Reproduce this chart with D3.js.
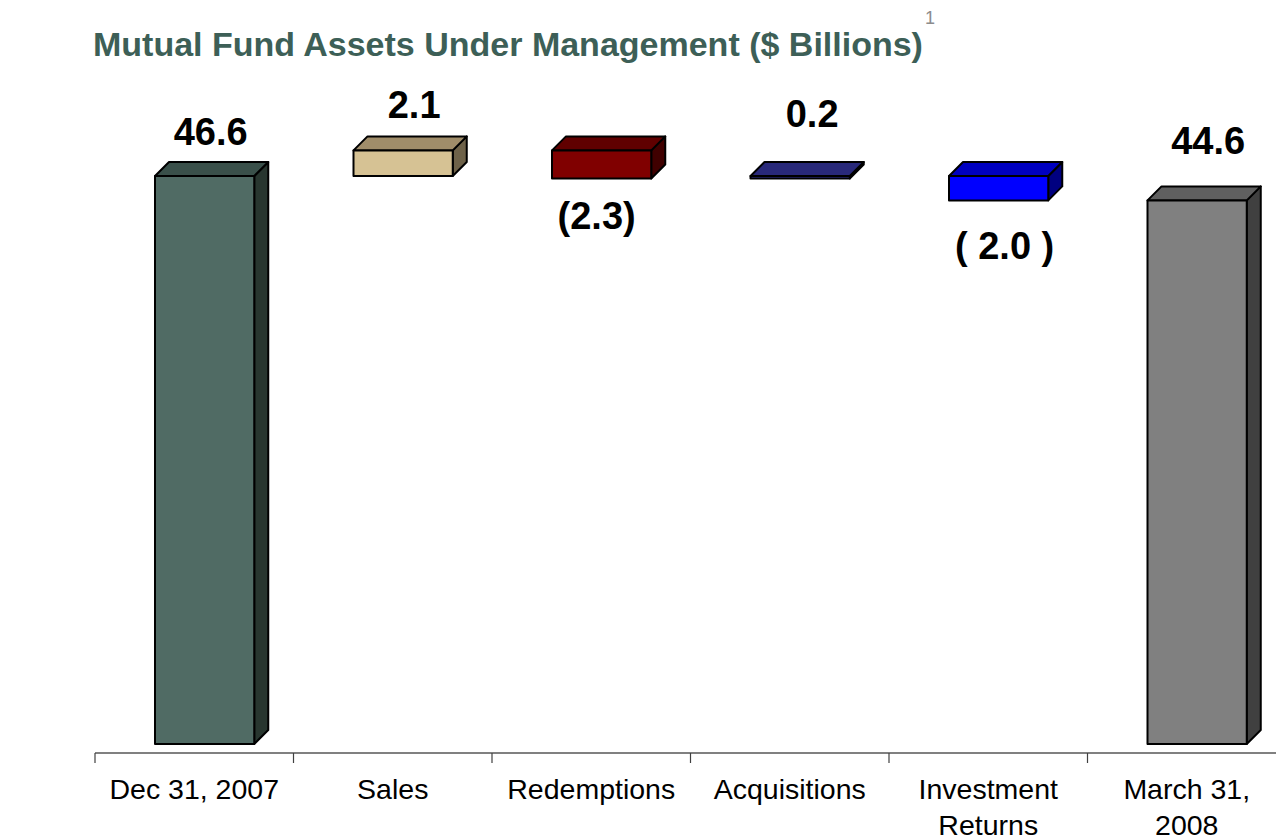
<!DOCTYPE html>
<html>
<head>
<meta charset="utf-8">
<script src="https://cdn.jsdelivr.net/npm/d3@7"></script>
<style>
  html, body { margin: 0; padding: 0; background: #fff; }
  #chart { width: 1276px; height: 840px; }
  svg text { font-family: Arial, "Liberation Sans", sans-serif; }
</style>
</head>
<body>
<div id="chart"></div>
<script>
/* Mutual fund AUM waterfall, Dec 31 2007 -> March 31 2008 */

// categories and tick labels (wrapped lines)
var categories = ["Dec 31, 2007", "Sales", "Redemptions", "Acquisitions", "Investment Returns", "March 31, 2008"];
var tickLines = [["Dec 31, 2007"], ["Sales"], ["Redemptions"], ["Acquisitions"], ["Investment", "Returns"], ["March 31,", "2008"]];

// values ($ billions): totals and changes
var kinds = ["total", "delta", "delta", "delta", "delta", "total"];
var values = [46.6, 2.1, -2.3, 0.2, -2.0, 44.6];
var valueLabels = ["46.6", "2.1", "(2.3)", "0.2", "( 2.0 )", "44.6"];

// bar colours: front, top, side
var fronts = ["#506b64", "#d6c294", "#800000", "#333399", "#0000ff", "#808080"];
var tops = ["#3a504a", "#a08d6a", "#600000", "#29297a", "#0000c0", "#606060"];
var sides = ["#28362f", "#6e6249", "#400000", "#1a1a4d", "#000080", "#404040"];

// label placement tweaks (px from bar edge, dx from front centre)
var labelGap = [31, 32, 37, 49, 45, 46];
var labelDx = [6, 11, -5, 12, 6, 11];

(function () {
  "use strict";

  var W = 1276, H = 840;
  var depth = 14;
  var axisY = 753;

  var svg = d3.select("#chart").append("svg").attr("width", W).attr("height", H);

  // title
  var title = svg.append("text").attr("x", 93).attr("y", 56)
    .style("font-size", "34px").style("font-weight", "bold").style("fill", "#3d5f57")
    .text("Mutual Fund Assets Under Management ($ Billions)");
  var tw = title.node().getComputedTextLength();
  svg.append("text").attr("x", 93 + tw + 2).attr("y", 24)
    .style("font-size", "18px").style("fill", "#8c8c8c").text("1");

  var x = d3.scaleBand().domain(categories).range([95, 1286]).paddingInner(0).paddingOuter(0);
  var y = d3.scaleLinear().domain([0, 46.6]).range([744, 176]);

  // waterfall extents
  var run = 0;
  var bars = values.map(function (v, i) {
    var lo, hi;
    if (kinds[i] === "total") { lo = 0; hi = v; run = v; }
    else { lo = Math.min(run, run + v); hi = Math.max(run, run + v); run += v; }
    return { cat: categories[i], lo: lo, hi: hi, v: v, i: i };
  });

  var fw = x.bandwidth() * 0.5;
  function frontX(d) { return x(d.cat) + 60; }

  var g = svg.append("g");
  var bar = g.selectAll("g.bar").data(bars).enter().append("g").attr("class", "bar");

  bar.append("path")
    .attr("d", function (d) {
      var x0 = frontX(d) + fw, yt = y(d.hi), yb = y(d.lo);
      return "M" + x0 + "," + yt + "L" + (x0 + depth) + "," + (yt - depth) +
        "L" + (x0 + depth) + "," + (yb - depth) + "L" + x0 + "," + yb + "Z";
    })
    .attr("fill", function (d) { return sides[d.i]; })
    .attr("stroke", "#000").attr("stroke-width", 2).attr("stroke-linejoin", "round");

  bar.append("path")
    .attr("d", function (d) {
      var x0 = frontX(d), yt = y(d.hi);
      return "M" + x0 + "," + yt + "L" + (x0 + depth) + "," + (yt - depth) +
        "L" + (x0 + fw + depth) + "," + (yt - depth) + "L" + (x0 + fw) + "," + yt + "Z";
    })
    .attr("fill", function (d) { return tops[d.i]; })
    .attr("stroke", "#000").attr("stroke-width", 2).attr("stroke-linejoin", "round");

  bar.append("rect")
    .attr("x", frontX)
    .attr("y", function (d) { return y(d.hi); })
    .attr("width", fw)
    .attr("height", function (d) { return Math.max(0.5, y(d.lo) - y(d.hi)); })
    .attr("fill", function (d) { return fronts[d.i]; })
    .attr("stroke", "#000").attr("stroke-width", 2).attr("stroke-linejoin", "round");

  // value labels
  bar.append("text")
    .attr("text-anchor", "middle")
    .attr("x", function (d) { return frontX(d) + fw / 2 + labelDx[d.i]; })
    .attr("y", function (d) {
      if (d.v < 0) return y(d.lo) + labelGap[d.i];
      return y(d.hi) - depth - labelGap[d.i];
    })
    .attr("dy", "0.36em")
    .style("font-size", "38px").style("font-weight", "bold").style("fill", "#000")
    .text(function (d) { return valueLabels[d.i]; });

  // category axis: line + ticks at band edges
  var ax = svg.append("g");
  ax.append("line").attr("x1", x.range()[0]).attr("x2", W).attr("y1", axisY).attr("y2", axisY)
    .attr("stroke", "#808080").attr("stroke-width", 2);
  ax.selectAll("line.tick").data(categories).enter().append("line").attr("class", "tick")
    .attr("x1", function (d) { return x(d); }).attr("x2", function (d) { return x(d); })
    .attr("y1", axisY).attr("y2", axisY + 10)
    .attr("stroke", "#404040").attr("stroke-width", 1.2);

  var lbl = ax.selectAll("text.cat").data(categories).enter().append("text").attr("class", "cat")
    .attr("text-anchor", "middle")
    .attr("x", function (d) { return x(d) + x.bandwidth() / 2; })
    .attr("y", axisY + 46)
    .style("font-size", "28.5px").style("fill", "#000");
  lbl.each(function (d, i) {
    var t = d3.select(this);
    tickLines[i].forEach(function (line, k) {
      t.append("tspan").attr("x", x(d) + x.bandwidth() / 2).attr("dy", k === 0 ? 0 : 36).text(line);
    });
  });
})();
</script>
</body>
</html>
